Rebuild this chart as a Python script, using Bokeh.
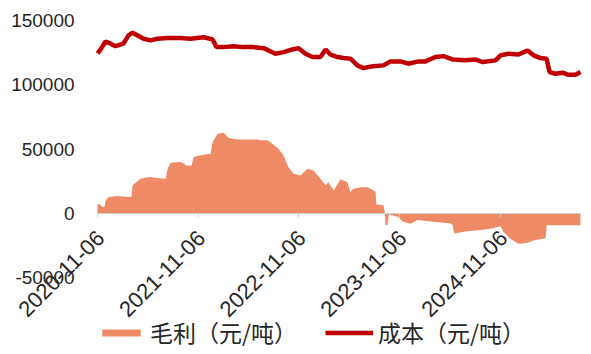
import math
import pandas as pd
from bokeh.plotting import figure
from bokeh.models import (FixedTicker, Legend, LegendItem, Range1d, NumeralTickFormatter,
                          ColumnDataSource)
from bokeh.core.properties import value
from bokeh.embed import file_html
from bokeh.resources import INLINE

# ---- data ----
cost_dates = [
    "2020-11-06", "2020-11-17", "2020-12-05", "2020-12-23", "2021-01-10", "2021-02-08",
    "2021-02-26", "2021-03-13", "2021-03-31", "2021-04-22", "2021-05-17", "2021-06-11",
    "2021-07-18", "2021-09-03", "2021-10-09", "2021-11-25", "2021-12-28", "2022-01-11",
    "2022-02-06", "2022-03-14", "2022-04-19", "2022-05-26", "2022-07-01", "2022-08-13",
    "2022-09-11", "2022-10-14", "2022-11-05", "2022-11-30", "2022-12-25", "2023-01-23",
    "2023-02-11", "2023-03-01", "2023-03-26", "2023-04-17", "2023-05-12", "2023-06-06",
    "2023-06-28", "2023-08-03", "2023-09-09", "2023-10-04", "2023-11-09", "2023-12-08",
    "2024-01-14", "2024-02-08", "2024-03-15", "2024-04-13", "2024-05-16", "2024-07-02",
    "2024-08-07", "2024-09-02", "2024-10-19", "2024-11-06", "2024-12-05", "2025-01-10",
    "2025-02-12", "2025-03-06", "2025-03-31", "2025-04-22", "2025-05-03", "2025-05-24",
    "2025-06-19", "2025-07-10", "2025-08-05", "2025-08-23",
]
cost_values = [
    124400, 127500, 133700, 132000, 130000, 132000,
    138400, 140500, 138400, 135800, 134500, 135800,
    136300, 136300, 135800, 137000, 135300, 129300,
    129300, 130000, 129300, 129300, 128500, 124200,
    125400, 127500, 128500, 124200, 121600, 121600,
    127500, 123400, 121600, 120800, 120300, 115100,
    113000, 114500, 115100, 118200, 118200, 116400,
    118200, 118200, 121600, 122300, 119700, 119000,
    119700, 117700, 119000, 122900, 124200, 123600,
    126700, 122900, 120800, 120300, 109900, 108600,
    109400, 107800, 107800, 109900,
]

profit_dates = [
    "2020-11-06", "2020-11-17", "2020-11-24", "2020-12-01", "2020-12-05", "2020-12-16",
    "2021-01-17", "2021-02-23", "2021-03-09", "2021-03-13", "2021-04-11", "2021-05-10",
    "2021-06-11", "2021-07-11", "2021-07-18", "2021-07-29", "2021-09-03", "2021-09-17",
    "2021-09-21", "2021-10-13", "2021-10-20", "2021-11-25", "2021-12-21", "2021-12-28",
    "2022-01-15", "2022-02-06", "2022-02-24", "2022-03-29", "2022-06-09", "2022-06-20",
    "2022-07-15", "2022-08-02", "2022-08-24", "2022-09-11", "2022-09-29", "2022-10-18",
    "2022-11-12", "2022-12-07", "2022-12-29", "2023-01-23", "2023-02-11", "2023-02-21",
    "2023-03-12", "2023-04-06", "2023-05-01", "2023-05-12", "2023-05-23", "2023-06-17",
    "2023-07-13", "2023-08-03", "2023-08-11", "2023-08-14", "2023-09-09", "2023-09-14",
    "2023-09-16", "2023-09-23", "2023-09-29", "2023-10-04", "2023-10-30", "2023-11-20",
    "2023-12-16", "2024-01-10", "2024-03-08", "2024-05-09", "2024-05-16", "2024-05-23",
    "2024-06-25", "2024-08-15", "2024-10-01", "2024-11-06", "2024-11-17", "2024-12-12",
    "2025-01-10", "2025-01-28", "2025-02-12", "2025-03-06", "2025-04-07", "2025-04-18",
    "2025-04-23", "2025-08-23",
]
profit_values = [
    7600, 6500, 5000, 5000, 10000, 12700,
    13500, 12700, 13000, 21800, 27000, 28300,
    27500, 27000, 34800, 39400, 39900, 38500,
    37300, 37300, 43800, 45600, 46400, 55400,
    62000, 62700, 58600, 57500, 57500, 56800,
    56800, 54200, 50300, 45000, 35900, 30800,
    29500, 34800, 33400, 27000, 21800, 24300,
    17900, 26600, 24300, 16600, 19200, 20400,
    20400, 17900, 17000, 7000, 6400, 0,
    -9000, -9000, 0, -1000, -2600, -6400,
    -8000, -5200, -6400, -7800, -8800, -15600,
    -14300, -13200, -11900, -10000, -14500, -19700,
    -23600, -23300, -22800, -21000, -19700, -19500,
    -9300, -9300,
]

x_tick_labels = ["2020-11-06", "2021-11-06", "2022-11-06", "2023-11-06", "2024-11-06"]
y_ticks = [-50000, 0, 50000, 100000, 150000]
series_names = ["毛利（元/吨）", "成本（元/吨）"]

# ---- figure ----
cd = pd.to_datetime(cost_dates)
pdts = pd.to_datetime(profit_dates)
xt = pd.to_datetime(x_tick_labels)

p = figure(width=591, height=354, x_axis_type="datetime",
           output_backend="svg", toolbar_location=None,
           x_range=Range1d(pd.Timestamp("2019-11-20"), pd.Timestamp("2025-10-02")),
           y_range=Range1d(-109720, 165550),
           min_border_left=0, min_border_right=0, min_border_top=0, min_border_bottom=0)

area = p.varea(x=pdts, y1=0, y2=profit_values, fill_color="#EF8A67", fill_alpha=1)
line = p.line(cd, cost_values, line_color="#C00000", line_width=4.5)

p.grid.visible = False
p.outline_line_color = None
p.background_fill_color = "white"
p.border_fill_color = "white"

tick_ms = [t.value / 1e6 for t in xt]
xa = p.xaxis[0]
xa.fixed_location = 0
xa.ticker = FixedTicker(ticks=tick_ms)
xa.axis_line_color = "#d0d0d0"
xa.axis_line_width = 1
xa.bounds = (tick_ms[0], pd.Timestamp(profit_dates[-1]).value / 1e6)
xa.major_tick_line_color = "#d0d0d0"
xa.major_tick_in = 0
xa.major_tick_out = 4
xa.minor_tick_line_color = None
xa.major_label_text_alpha = 0

# rotated date labels hanging from the zero axis
lab_src = ColumnDataSource(dict(x=xt, y=[0] * len(x_tick_labels), text=x_tick_labels))
p.text(x="x", y="y", text="text", source=lab_src, angle=math.pi / 4,
       text_align="right", text_baseline="middle", x_offset=3, y_offset=21,
       text_font=value("Liberation Sans"), text_font_size="22px", text_color="#262626")

ya = p.yaxis[0]
ya.fixed_location = tick_ms[0]
ya.ticker = FixedTicker(ticks=y_ticks)
ya.formatter = NumeralTickFormatter(format="0")
ya.axis_line_color = None
ya.major_tick_line_color = None
ya.minor_tick_line_color = None
ya.major_label_text_font = "Liberation Sans"
ya.major_label_text_font_size = "19px"
ya.major_label_text_color = "#262626"
ya.major_label_standoff = 17

legend = Legend(items=[LegendItem(label=series_names[0], renderers=[area]),
                       LegendItem(label=series_names[1], renderers=[line])],
                orientation="horizontal", location=(97, 5),
                padding=0, margin=0, spacing=28, glyph_width=48, glyph_height=9,
                label_standoff=5, label_text_font="Noto Sans CJK SC",
                label_text_font_size="23px", label_text_color="#262626",
                border_line_color=None, background_fill_alpha=0)
p.add_layout(legend, "center")

open("out.html", "w").write(file_html(p, INLINE))
